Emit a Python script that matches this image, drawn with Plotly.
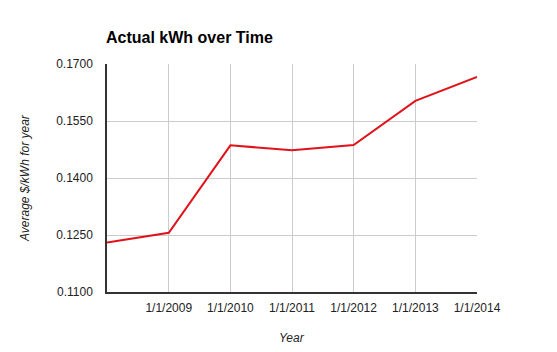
import plotly.graph_objects as go

dates = ["2008-01-01", "2009-01-01", "2010-01-01", "2011-01-01",
         "2012-01-01", "2013-01-01", "2014-01-01"]
values = [0.1230, 0.1256, 0.1486, 0.1473, 0.1487, 0.1603, 0.1666]
x_tickvals = ["2009-01-01", "2010-01-01", "2011-01-01", "2012-01-01",
              "2013-01-01", "2014-01-01"]
x_ticktext = ["1/1/2009", "1/1/2010", "1/1/2011", "1/1/2012",
              "1/1/2013", "1/1/2014"]
y_tickvals = [0.110, 0.125, 0.140, 0.155, 0.170]
y_ticktext = ["0.1100", "0.1250", "0.1400", "0.1550", "0.1700"]

FONT = "Arial, Liberation Sans, sans-serif"
W, H = 557, 352
L, R, T, B = 107, 80, 64, 60

fig = go.Figure()
fig.add_trace(go.Scatter(
    x=dates, y=values, mode="lines",
    line=dict(color="#e0131b", width=2),
    hoverinfo="skip", showlegend=False,
))

fig.update_layout(
    width=W, height=H,
    margin=dict(l=L, r=R, t=T, b=B, autoexpand=False),
    paper_bgcolor="white", plot_bgcolor="white",
    font=dict(family=FONT, size=12, color="#222"),
    title=dict(
        text="<b>Actual kWh over Time</b>",
        font=dict(family=FONT, size=16, color="#000"),
        x=106 / W, xanchor="left", xref="container",
        y=1 - 37 / H, yanchor="middle", yref="container",
    ),
    xaxis=dict(
        type="date",
        range=["2008-01-01", "2014-01-01"],
        tickmode="array", tickvals=x_tickvals, ticktext=x_ticktext,
        showgrid=True, gridcolor="#cccccc", gridwidth=1,
        showline=True, linecolor="#333333", linewidth=1.5,
        ticks="", ticklabelstandoff=4, automargin=False,
        tickfont=dict(size=12, color="#222"),
        zeroline=False,
    ),
    yaxis=dict(
        range=[0.110, 0.170],
        tickmode="array", tickvals=y_tickvals, ticktext=y_ticktext,
        showgrid=True, gridcolor="#cccccc", gridwidth=1,
        showline=True, linecolor="#333333", linewidth=1.5,
        ticks="", ticklabelstandoff=10, automargin=False,
        tickfont=dict(size=12, color="#222"),
        zeroline=False,
    ),
    annotations=[
        dict(text="<i>Year</i>", xref="paper", yref="paper",
             x=0.5, y=-(338 - (H - B)) / (H - T - B), xanchor="center", yanchor="middle",
             showarrow=False, font=dict(size=12, color="#222")),
        dict(text="<i>Average $/kWh for year</i>", xref="paper", yref="paper",
             x=-(L - 25) / (W - L - R), y=0.5, xanchor="center", yanchor="middle",
             textangle=-90, showarrow=False, font=dict(size=12, color="#222")),
    ],
)

fig.write_html("out.html")
